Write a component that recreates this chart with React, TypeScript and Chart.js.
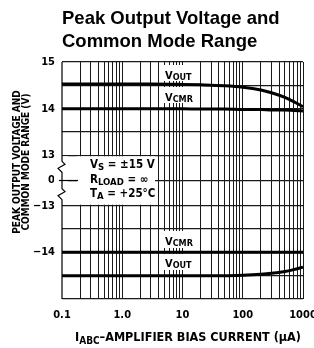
import React, { useEffect, useRef } from "react";
import { Chart, registerables } from "chart.js";

Chart.register(...registerables);

// ---- data ----
const currentUA = [0.1, 0.3, 1, 3, 10, 20, 50, 100, 200, 300, 500, 700, 1000];
const voutPos = [14.53, 14.53, 14.53, 14.53, 14.52, 14.51, 14.49, 14.46, 14.4, 14.34, 14.24, 14.15, 14.04];
const vcmrPos = [14.0, 14.0, 14.0, 14.0, 14.0, 13.99, 13.99, 13.98, 13.98, 13.97, 13.97, 13.96, 13.95];
const vcmrNeg = [-14.0, -14.0, -14.0, -14.0, -14.0, -14.0, -14.0, -14.0, -14.0, -14.0, -14.0, -14.0, -14.0];
const voutNeg = [-14.5, -14.5, -14.5, -14.5, -14.5, -14.5, -14.5, -14.49, -14.47, -14.45, -14.41, -14.37, -14.32];

const xTickValues = [
  0.1, 0.2, 0.3, 0.4, 0.5, 0.6, 0.7, 0.8, 0.9,
  1, 2, 3, 4, 5, 6, 7, 8, 9,
  10, 20, 30, 40, 50, 60, 70, 80, 90,
  100, 200, 300, 400, 500, 600, 700, 800, 900, 1000,
];
const xTickLabels: Record<string, string> = { "0.1": "0.1", "1": "1.0", "10": "10", "100": "100", "1000": "1000" };

const yTickValues = [15, 14.5, 14, 13.5, 13, 0, -13, -13.5, -14, -14.5, -15];
const yTickLabels = ["15", "", "14", "", "13", "0", "\u221213", "", "\u221214", "", ""];

// broken-axis mapping
const M = 0.54;
const u = (v: number) => (v >= 13 ? v - 13 + M : v <= -13 ? v + 13 - M : (v * M) / 13);

const COND = "'Liberation Sans Narrow', 'DejaVu Sans Condensed', 'Liberation Sans', sans-serif";
const SANS = "'Liberation Sans', Arial, sans-serif";

function subText(ctx: CanvasRenderingContext2D, x: number, y: number, main: string, sub: string, size: number, subSize: number, drop: number) {
  ctx.font = `bold ${size}px ${COND}`;
  ctx.fillText(main, x, y);
  const w = ctx.measureText(main).width;
  ctx.font = `bold ${subSize}px ${COND}`;
  ctx.fillText(sub, x + w, y + drop);
  return x + w + ctx.measureText(sub).width;
}

const decor = {
  id: "decor",
  beforeDatasetsDraw(chart: any) {
    const ctx = chart.ctx as CanvasRenderingContext2D;
    const ys = chart.scales.y;
    const L = chart.chartArea.left;
    const top = chart.chartArea.top;
    const bot = chart.chartArea.bottom;
    const y13 = ys.getPixelForValue(u(13));
    const yn13 = ys.getPixelForValue(u(-13));
    ctx.save();
    ctx.fillStyle = "#fff";
    // middle box
    ctx.fillRect(77, y13 + 1, 78, yn13 - y13 - 2);
    // label boxes
    ctx.fillRect(160, 65, 40, 16);
    ctx.fillRect(160, 87, 40, 16);
    ctx.fillRect(160, 231, 40, 17);
    ctx.fillRect(160, 254, 40, 16);
    // clear left border region in middle and redraw with breaks
    ctx.fillRect(L - 8, y13 + 1, 14, yn13 - y13 - 2);
    ctx.strokeStyle = "#000";
    ctx.lineWidth = 1.2;
    ctx.beginPath();
    ctx.moveTo(L, top);
    ctx.lineTo(L, y13 + 6);
    ctx.lineTo(L + 3, y13 + 9);
    ctx.lineTo(L - 4, y13 + 13);
    ctx.lineTo(L, y13 + 17);
    ctx.lineTo(L, yn13 - 17);
    ctx.lineTo(L + 3, yn13 - 14);
    ctx.lineTo(L - 4, yn13 - 10);
    ctx.lineTo(L, yn13 - 6);
    ctx.lineTo(L, bot);
    ctx.stroke();
    // zero line segment left of box
    const y0 = ys.getPixelForValue(0);
    ctx.beginPath();
    ctx.moveTo(L - 3, y0);
    ctx.lineTo(78, y0);
    ctx.stroke();
    ctx.restore();
  },
  afterDatasetsDraw(chart: any) {
    const ctx = chart.ctx as CanvasRenderingContext2D;
    ctx.save();
    ctx.fillStyle = "#000";
    ctx.textBaseline = "alphabetic";
    ctx.textAlign = "left";
    subText(ctx, 165, 79, "V", "OUT", 11, 9, 1);
    subText(ctx, 165, 101, "V", "CMR", 11, 9, 1);
    subText(ctx, 165, 245, "V", "CMR", 11, 9, 1);
    subText(ctx, 165, 267, "V", "OUT", 11, 9, 1);
    // conditions box
    let x = subText(ctx, 90, 168, "V", "S", 11.5, 9.5, 2);
    ctx.font = `bold 11.5px ${COND}`;
    ctx.fillText(" = \u00b115 V", x, 168);
    x = subText(ctx, 90, 183, "R", "LOAD", 11.5, 9.5, 2);
    ctx.font = `bold 11.5px ${COND}`;
    ctx.fillText(" = \u221e", x, 183);
    x = subText(ctx, 90, 197, "T", "A", 11.5, 9.5, 2);
    ctx.font = `bold 11.5px ${COND}`;
    ctx.fillText(" = +25\u00b0C", x, 197);
    ctx.restore();
  },
  afterDraw(chart: any) {
    const ctx = chart.ctx as CanvasRenderingContext2D;
    ctx.save();
    ctx.fillStyle = "#000";
    ctx.textBaseline = "alphabetic";
    ctx.textAlign = "left";
    ctx.font = `bold 18.5px ${SANS}`;
    ctx.fillText("Peak Output Voltage and", 62, 24);
    ctx.fillText("Common Mode Range", 62, 47);
    // x title
    let x = subText(ctx, 75, 341, "I", "ABC", 12.5, 10, 3);
    ctx.font = `bold 12.5px ${COND}`;
    ctx.fillText("\u2013AMPLIFIER BIAS CURRENT (\u03bcA)", x, 341);
    // y title
    ctx.translate(0, 162);
    ctx.rotate(-Math.PI / 2);
    ctx.textAlign = "center";
    ctx.font = `bold 10px ${COND}`;
    ctx.fillText("PEAK OUTPUT VOLTAGE AND", 0, 20);
    ctx.fillText("COMMON MODE RANGE (V)", 0, 29);
    ctx.restore();
  },
};

export default function App() {
  const ref = useRef<HTMLCanvasElement>(null);
  useEffect(() => {
    if (!ref.current) return;
    const mk = (vals: number[]) => currentUA.map((c, i) => ({ x: c, y: u(vals[i]) }));
    const ds = (vals: number[]) => ({
      data: mk(vals),
      borderColor: "#000",
      borderWidth: 3,
      pointRadius: 0,
      cubicInterpolationMode: "monotone" as const,
      fill: false,
    });
    const chart = new Chart(ref.current, {
      type: "line",
      data: { datasets: [ds(voutPos), ds(vcmrPos), ds(vcmrNeg), ds(voutNeg)] },
      options: {
        animation: false,
        responsive: false,
        maintainAspectRatio: false,
        layout: { padding: { left: 0, top: 62, right: 11, bottom: 0 } },
        plugins: { legend: { display: false }, tooltip: { enabled: false }, title: { display: false } },
        scales: {
          x: {
            type: "logarithmic",
            min: 0.1,
            max: 1000,
            afterBuildTicks: (s: any) => {
              s.ticks = xTickValues.map((v) => ({ value: v }));
            },
            afterFit: (s: any) => {
              s.height = 49;
              s.paddingLeft = 0;
              s.paddingRight = 0;
            },
            border: { display: false },
            grid: {
              drawTicks: false,
              color: (c: any) => (c.tick && c.tick.value === 0.1 ? "rgba(0,0,0,0)" : "#1a1a1a"),
              lineWidth: 1,
            },
            ticks: {
              autoSkip: false,
              maxRotation: 0,
              padding: 10,
              color: "#000",
              font: { family: COND, size: 11, weight: "bold" },
              callback: (v: any) => xTickLabels[String(Number(v))] ?? "",
            },
          },
          y: {
            type: "linear",
            min: -(2 + M),
            max: 2 + M,
            afterBuildTicks: (s: any) => {
              s.ticks = yTickValues.map((v) => ({ value: u(v) }));
            },
            afterFit: (s: any) => {
              s.width = 62;
              s.paddingTop = 0;
              s.paddingBottom = 0;
            },
            border: { display: false },
            grid: { drawTicks: false, color: "#1a1a1a", lineWidth: 1.2 },
            ticks: {
              autoSkip: false,
              padding: 7,
              color: "#000",
              font: { family: COND, size: 11, weight: "bold" },
              callback: (_v: any, i: number) => yTickLabels[i] ?? "",
            },
          },
        },
      },
      plugins: [decor],
    });
    return () => chart.destroy();
  }, []);
  return (
    <div style={{ position: "fixed", left: 0, top: 0, width: 314, height: 348, background: "#fff" }}>
      <canvas ref={ref} width={314} height={348} style={{ width: 314, height: 348, display: "block" }} />
    </div>
  );
}
